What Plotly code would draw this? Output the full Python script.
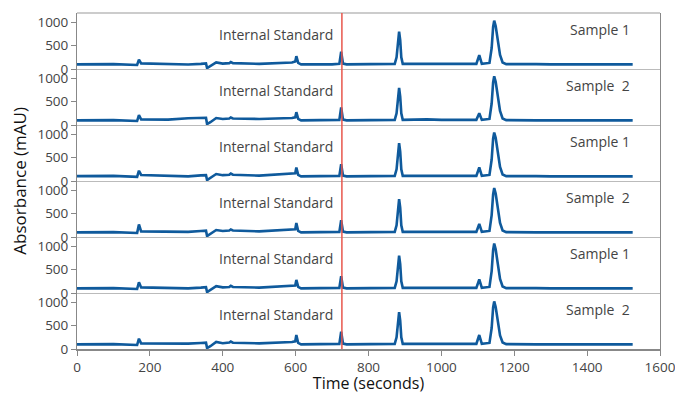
import plotly.graph_objects as go
from plotly.subplots import make_subplots

# Key time points (seconds)
time_s = [0, 100, 165, 170, 176, 250, 305, 340, 354, 357,
          366, 382, 400, 418, 422, 428, 500, 590, 599, 602,
          607, 615, 700, 720, 725, 730, 740, 800, 872, 877,
          881, 884, 887, 890, 894, 960, 1000, 1096, 1104, 1111,
          1132, 1138, 1142, 1145, 1149, 1155, 1161, 1168, 1178, 1260,
          1300, 1525]

panel1 = [100, 105, 85, 200, 120, 100, 95, 110, 120, 20,
          60, 140, 115, 125, 150, 125, 110, 140, 160, 275,
          130, 100, 100, 110, 370, 115, 100, 100, 110, 250,
          650, 800, 620, 250, 110, 115, 105, 110, 297, 110,
          130, 450, 900, 1035, 920, 600, 300, 140, 105, 105,
          100, 100]
panel2 = [100, 105, 85, 210, 120, 115, 145, 150, 155, 20,
          60, 150, 130, 140, 160, 140, 130, 150, 165, 275,
          130, 100, 100, 110, 377, 115, 100, 100, 110, 250,
          640, 793, 610, 250, 110, 120, 110, 110, 250, 110,
          130, 460, 910, 1044, 925, 600, 300, 140, 105, 100,
          100, 100]
panel3 = [105, 110, 90, 220, 130, 110, 100, 120, 125, 20,
          70, 150, 125, 135, 160, 135, 115, 150, 165, 290,
          130, 100, 100, 110, 360, 115, 100, 100, 110, 250,
          660, 810, 630, 250, 110, 115, 105, 110, 290, 110,
          130, 460, 905, 1040, 925, 600, 300, 140, 105, 105,
          100, 100]
panel4 = [100, 105, 85, 270, 120, 110, 110, 130, 135, 20,
          65, 150, 130, 140, 160, 140, 120, 150, 165, 300,
          130, 100, 100, 110, 360, 115, 100, 100, 110, 250,
          660, 810, 630, 250, 110, 115, 105, 110, 280, 110,
          130, 470, 915, 1050, 930, 610, 300, 140, 105, 100,
          100, 100]
panel5 = [100, 105, 85, 230, 120, 105, 100, 115, 125, 20,
          60, 145, 120, 130, 155, 130, 115, 145, 160, 280,
          130, 100, 100, 110, 360, 115, 100, 100, 110, 250,
          650, 800, 620, 250, 110, 115, 105, 110, 290, 110,
          130, 470, 920, 1060, 935, 610, 300, 140, 105, 105,
          100, 100]
panel6 = [100, 105, 85, 220, 120, 110, 115, 130, 135, 20,
          60, 150, 125, 140, 160, 135, 120, 150, 165, 300,
          130, 100, 100, 110, 370, 115, 100, 100, 110, 250,
          640, 790, 610, 250, 110, 115, 105, 110, 300, 110,
          130, 450, 890, 1020, 900, 590, 290, 140, 105, 100,
          100, 100]

panels = [panel1, panel2, panel3, panel4, panel5, panel6]
sample_labels = ["Sample 1", "Sample \u00a02", "Sample 1", "Sample \u00a02", "Sample 1", "Sample \u00a02"]
std_label = "Internal Standard"
std_time = 727
x_ticks = [0, 200, 400, 600, 800, 1000, 1200, 1400, 1600]
y_ticks = [0, 500, 1000]

LINE = "#0f5a9c"
FONT = "Open Sans, Noto Sans, sans-serif"

fig = make_subplots(rows=6, cols=1, shared_xaxes=True, vertical_spacing=0)

for i, vals in enumerate(panels):
    r = i + 1
    fig.add_trace(go.Scatter(x=time_s, y=vals, mode="lines",
                             line=dict(color=LINE, width=2.6),
                             showlegend=False, hoverinfo="skip"), row=r, col=1)
    fig.update_yaxes(range=[0, 1200], tickvals=y_ticks, ticks="outside", ticklen=5,
                     tickcolor="#888", showgrid=False, zeroline=False,
                     showline=True, linecolor="#888", linewidth=1, mirror=True,
                     automargin=False, ticklabeloverflow="allow",
                     tickfont=dict(family=FONT, size=13.5, color="#444"),
                     row=r, col=1)
    last = (r == 6)
    fig.update_xaxes(range=[0, 1600], tickvals=x_ticks, showgrid=False, zeroline=False,
                     showline=True, linecolor="#888" if last else "#bbb",
                     linewidth=1.5 if last else 1, mirror=False,
                     ticks="outside" if last else "", ticklen=5, tickcolor="#888",
                     showticklabels=last, automargin=False, ticklabeloverflow="allow",
                     tickfont=dict(family=FONT, size=13.5, color="#444"),
                     row=r, col=1)
    yname = "y" if r == 1 else f"y{r}"
    xname = "x" if r == 1 else f"x{r}"
    fig.add_annotation(x=708, y=750, xref=xname, yref=yname, text=std_label,
                       showarrow=False, xanchor="right", yanchor="middle",
                       font=dict(family=FONT, size=14, color="#444"))
    fig.add_annotation(x=1523, y=840, xref=xname, yref=yname, text=sample_labels[i],
                       showarrow=False, xanchor="right", yanchor="middle",
                       font=dict(family=FONT, size=14, color="#444"))

# top border
fig.add_shape(type="line", xref="paper", yref="paper", x0=0, x1=1, y0=1, y1=1,
              line=dict(color="#999", width=1))

# internal standard marker line
fig.add_shape(type="line", xref="x6", yref="paper", x0=std_time, x1=std_time, y0=0, y1=1,
              line=dict(color="#e8564c", width=1.5), layer="above")

fig.update_xaxes(title_text="Time (seconds)", title_font=dict(family=FONT, size=16, color="#111"),
                 title_standoff=4, row=6, col=1)

fig.add_annotation(x=-0.1, y=0.5, xref="paper", yref="paper", text="Absorbance (mAU)",
                   textangle=-90, showarrow=False, xanchor="center", yanchor="middle",
                   font=dict(family=FONT, size=17, color="#111"))

fig.update_layout(width=675, height=394, margin=dict(l=77, r=15, t=13, b=45),
                  plot_bgcolor="white", paper_bgcolor="white")

# remove the default page body margin so the figure fills the window exactly
fig.write_html("out.html", config={"displayModeBar": False},
               post_script="document.body.style.margin='0';document.body.style.overflow='hidden';")
